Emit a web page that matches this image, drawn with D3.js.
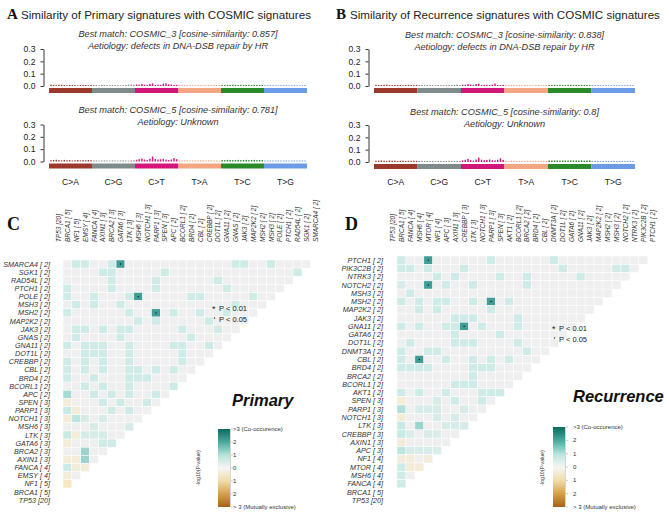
<!DOCTYPE html>
<html>
<head>
<meta charset="utf-8">
<script src="https://cdn.jsdelivr.net/npm/d3@7"></script>
<style>
body { margin: 0; background: #fff; }
text { font-family: "Liberation Sans", Arial, sans-serif; }
</style>
</head>
<body>
<div id="chart"></div>
<script>
// ---------- data ----------
const mutTypes = ["C>A", "C>G", "C>T", "T>A", "T>C", "T>G"];
const mutColors = ["#9b3a2c", "#7f8b8b", "#d1167c", "#f4a582", "#2a8a2a", "#6b9be6"];
const yTicks = [0, 0.1, 0.2, 0.3];

// 96 trinucleotide channels, 16 per substitution type
const primaryTop = [
  .011,.009,.007,.010,.010,.008,.006,.009,.008,.007,.005,.008,.010,.008,.006,.009,
  .009,.008,.006,.009,.008,.007,.005,.008,.007,.006,.005,.007,.008,.010,.012,.009,
  .012,.010,.016,.011,.009,.017,.021,.008,.011,.010,.019,.022,.014,.012,.008,.010,
  .008,.007,.007,.008,.007,.006,.007,.008,.007,.006,.006,.007,.008,.007,.006,.008,
  .009,.008,.010,.009,.011,.009,.008,.010,.009,.008,.009,.008,.010,.009,.008,.009,
  .007,.006,.007,.007,.006,.006,.007,.006,.007,.006,.006,.007,.006,.007,.006,.007];
const primaryBottom = [
  .010,.012,.014,.011,.009,.013,.010,.011,.008,.010,.012,.009,.011,.010,.012,.010,
  .008,.009,.007,.008,.009,.008,.007,.009,.008,.007,.008,.009,.008,.007,.009,.010,
  .014,.019,.024,.016,.012,.022,.040,.020,.016,.018,.021,.015,.012,.016,.028,.019,
  .009,.008,.009,.010,.008,.009,.008,.009,.010,.009,.008,.009,.009,.008,.009,.008,
  .012,.011,.013,.012,.011,.012,.013,.011,.012,.013,.011,.012,.013,.011,.012,.011,
  .008,.008,.009,.008,.008,.009,.008,.008,.009,.008,.008,.009,.008,.008,.009,.008];
const recurrenceTop = [
  .010,.009,.008,.010,.011,.008,.007,.009,.009,.008,.006,.008,.010,.009,.007,.009,
  .009,.008,.007,.008,.008,.007,.006,.008,.007,.006,.006,.007,.008,.009,.011,.008,
  .011,.010,.015,.012,.009,.016,.019,.009,.010,.010,.008,.012,.020,.009,.008,.010,
  .008,.008,.007,.008,.007,.007,.007,.008,.007,.007,.006,.007,.008,.007,.007,.008,
  .009,.009,.010,.009,.010,.009,.008,.010,.010,.009,.009,.008,.010,.009,.008,.009,
  .007,.007,.007,.007,.006,.007,.007,.006,.007,.007,.006,.007,.007,.007,.006,.007];
const recurrenceBottom = [
  .010,.011,.013,.010,.009,.012,.010,.011,.009,.010,.011,.009,.010,.010,.011,.010,
  .008,.009,.008,.008,.009,.008,.007,.009,.008,.008,.008,.009,.008,.008,.009,.009,
  .013,.018,.025,.015,.012,.020,.036,.019,.015,.017,.020,.014,.013,.018,.030,.017,
  .009,.009,.009,.010,.008,.009,.009,.009,.010,.009,.008,.009,.009,.009,.009,.008,
  .012,.012,.013,.012,.011,.012,.012,.011,.012,.013,.012,.012,.013,.011,.012,.012,
  .008,.009,.009,.008,.008,.009,.008,.009,.009,.008,.008,.009,.008,.009,.009,.008];

// genes (column order) with mutation counts
const primaryGenes = ["TP53","BRCA1","NF1","EMSY","FANCA","AXIN1","BRCA2","GATA6","LTK","MSH6",
  "NOTCH1","PARP1","SPEN","APC","BCORL1","BRD4","CBL","CREBBP","DOT1L","GNA11","GNAS","JAK3",
  "MAP2K2","MSH2","MSH3","POLE","PTCH1","RAD54L","SGK1","SMARCA4"];
const primaryCounts = [20,5,5,4,4,3,3,3,3,3,3,3,3,2,2,2,2,2,2,2,2,2,2,2,2,2,2,2,2,2];
const recurrenceGenes = ["TP53","BRCA1","FANCA","MSH6","MTOR","NF1","APC","AXIN1","CREBBP","LTK",
  "NOTCH1","PARP1","SPEN","AKT1","BCORL1","BRCA2","BRD4","CBL","DNMT3A","DOT1L","GATA6","GNA11",
  "JAK3","MAP2K2","MSH2","MSH3","NOTCH2","NTRK3","PIK3C2B","PTCH1"];
const recurrenceCounts = [20,5,4,4,4,4,3,3,3,3,3,3,3,2,2,2,2,2,2,2,2,2,2,2,2,2,2,2,2,2];

// signed -log10(P): + co-occurrence, - mutual exclusivity; rows from top
const primaryRows = [
  [0,.8,.8,0,0,.8,2.3,0,0,0,0,0,0,0,0,0,0,0,0,.8,.8,0,0,.8,0,0,0,0],
  [0,0,0,0,.8,.8,0,0,0,0,0,.8,0,0,0,0,0,0,0,0,0,0,0,0,0,0,.8],
  [0,0,0,0,0,.8,0,0,0,0,.8,0,0,0,0,0,0,.8,0,0,0,0,0,0,0,0],
  [.8,0,0,0,0,.8,0,0,0,0,.8,0,0,0,0,0,0,0,.8,0,0,0,0,0,0],
  [.8,0,0,.8,0,0,0,.8,2.3,0,0,0,0,0,.8,.8,0,0,0,0,0,.8,0,0],
  [0,.8,0,.8,0,0,.8,0,0,0,0,0,0,0,0,0,0,0,0,.8,0,0,0],
  [.8,0,0,0,0,0,0,.8,0,0,2.3,0,.8,0,0,.8,0,0,.8,0,0,0],
  [0,0,0,0,0,0,0,0,.8,0,.8,0,0,0,0,0,.8,0,0,0,0],
  [0,.8,.8,0,.8,0,.8,.8,0,0,0,0,0,.8,0,0,0,.8,0,0],
  [0,.8,0,0,0,0,.8,0,0,0,0,0,0,0,.8,0,0,0,0],
  [.8,0,.8,.8,.8,0,0,.8,0,0,0,0,.8,.8,0,0,.8,0],
  [0,0,.8,.8,.8,0,0,.8,0,0,0,0,0,.8,0,0,0],
  [.8,0,.8,0,.8,0,0,.8,0,0,0,0,0,.8,0,0],
  [.8,0,.8,0,.8,0,0,.8,.8,0,.8,0,.8,0,0],
  [.8,0,0,.8,0,0,0,.8,.8,.8,0,0,0,0],
  [0,0,.8,0,.8,0,0,.8,0,0,0,0,.8],
  [1.3,0,0,.8,0,.8,0,.8,0,0,.8,0],
  [-.5,0,0,0,.8,0,.8,0,0,.8,0],
  [1.0,-.5,0,0,0,.8,0,.8,0,0],
  [-.5,1.1,.6,0,.6,0,0,0,0],
  [0,0,0,.6,0,0,0,.6],
  [1.0,-.5,.6,.6,.6,0,0],
  [-.5,0,0,0,.8,.8],
  [0,0,1.4,0,0],
  [-.5,-.5,1.4,0],
  [.9,-.5,-.5],
  [-.5,0],
  [-1],
  [],
  []];
const recurrenceRows = [
  [.8,0,0,2.3,0,0,0,0,0,0,.8,0,0,0,0,0,0,.8,0,0,0,0,0,0,0,0,0,0],
  [.8,.8,0,.8,0,0,0,.8,0,0,0,0,0,0,0,0,0,0,.8,0,0,0,0,0,.8,.8,0],
  [0,0,0,0,.8,0,.8,0,0,0,0,.8,0,0,.8,0,0,0,0,0,.8,0,0,0,0,0],
  [.6,0,0,2.3,0,.8,0,0,.8,0,0,0,0,0,.8,0,0,0,0,0,0,0,0,0,0],
  [0,.8,0,0,0,0,0,0,0,0,0,0,0,0,0,0,0,0,0,0,0,0,0,0],
  [.8,0,.8,0,.8,.8,0,0,.8,0,2.3,0,.8,0,0,0,0,0,0,0,0,0,0],
  [0,0,.8,0,.8,0,0,0,0,0,.8,0,0,0,0,0,0,0,0,0,0,0],
  [0,0,0,0,0,0,.8,.8,.8,0,0,0,0,.8,0,0,0,0,0,0,0],
  [.8,0,.8,0,0,.8,.8,2.3,0,.8,0,0,0,.8,0,0,0,0,0,0],
  [0,0,0,0,0,0,.8,0,0,0,0,.8,0,0,0,0,0,0,0],
  [0,.8,0,0,0,0,.8,.8,.8,0,0,0,0,.8,0,0,0,0],
  [.8,0,0,.8,.8,0,0,0,0,0,0,0,0,0,.8,0,0],
  [.8,0,2.3,0,0,.8,0,0,.8,0,.8,0,.8,0,0,0],
  [.8,.8,.8,.8,0,0,0,0,.8,.8,.8,0,0,0,0],
  [0,0,0,0,0,0,0,0,.8,0,0,0,0,0],
  [0,0,0,0,0,0,.8,.8,.8,0,0,0,0],
  [.8,0,.8,0,0,.8,0,0,0,.8,.8,.8],
  [-.5,0,0,0,.6,0,.8,0,0,.8,0],
  [1.2,0,.6,.6,.6,0,0,.6,0,0],
  [-.5,0,0,0,.6,0,.6,0,0],
  [1.0,0,1.4,0,0,.6,.6,.6],
  [1.0,.5,0,.6,.5,0,0],
  [-.5,0,0,0,0,0],
  [1.1,.6,.6,.6,.5],
  [-.5,-.5,0,-.5],
  [.8,-.5,-.5],
  [.8,0],
  [.8],
  [],
  []];

const legendTicks = [3, 2, 1, 0, -1, -2, -3];
const legendLabels = [">3 (Co-occurence)", "2", "1", "0", "1", "2", "> 3 (Mutually exclusive)"];

// ---------- drawing ----------
const svg = d3.select("#chart")
  .append("svg")
  .attr("width", 669)
  .attr("height", 516);

const serif = "'Liberation Serif', 'Times New Roman', serif";

// panel letters and titles
[["A", 7, 19], ["B", 336, 19], ["C", 7, 230], ["D", 345, 230]].forEach(([t, x, y]) => {
  svg.append("text").attr("x", x).attr("y", y).text(t)
    .style("font-family", serif).style("font-weight", "bold")
    .style("font-size", t === "A" || t === "B" ? "15px" : "18px").attr("fill", "#111");
});
svg.append("text").attr("x", 21).attr("y", 19).text("Similarity of Primary signatures with COSMIC signatures")
  .style("font-size", "11.6px").attr("fill", "#222");
svg.append("text").attr("x", 350).attr("y", 19).text("Similarity of Recurrence signatures with COSMIC signatures")
  .style("font-size", "11.6px").attr("fill", "#222");

const drawSignature = (p) => {
  const g = svg.append("g");
  const y = d3.scaleLinear().domain([0, 0.3]).range([p.zero, p.top]);
  const x = d3.scaleBand().domain(d3.range(96)).range([p.left, p.right]).padding(0.45);
  const xt = d3.scaleBand().domain(mutTypes).range([p.left, p.right]);
  const cx = (p.left + p.right) / 2;

  p.lines.forEach((l, i) => {
    g.append("text").attr("x", cx).attr("y", p.textY + i * 12).attr("text-anchor", "middle")
      .style("font-size", "9.2px").style("font-style", "italic").attr("fill", "#333").text(l);
  });

  g.append("g")
    .attr("transform", `translate(${p.axisX},0)`)
    .call(d3.axisLeft(y).tickValues(yTicks).tickSize(3).tickSizeOuter(0).tickPadding(5).tickFormat(d3.format(".1f")))
    .call(a => a.selectAll("text").style("font-size", "8.6px").attr("fill", "#222"))
    .call(a => a.selectAll("path,line").attr("stroke", "#333"));

  g.selectAll("rect.bar")
    .data(p.vals)
    .join("rect")
    .attr("class", "bar")
    .attr("x", (d, i) => x(i))
    .attr("y", d => y(d))
    .attr("width", x.bandwidth())
    .attr("height", d => y(0) - y(d))
    .attr("fill", (d, i) => mutColors[Math.floor(i / 16)]);

  g.selectAll("rect.strip")
    .data(mutTypes)
    .join("rect")
    .attr("class", "strip")
    .attr("x", d => xt(d))
    .attr("y", p.zero + 2)
    .attr("width", xt.bandwidth())
    .attr("height", 5)
    .attr("fill", (d, i) => mutColors[i]);

  if (p.labels) {
    g.selectAll("text.mt")
      .data(mutTypes)
      .join("text")
      .attr("class", "mt")
      .attr("x", d => xt(d) + xt.bandwidth() / 2)
      .attr("y", 185)
      .attr("text-anchor", "middle")
      .style("font-size", "8.6px")
      .attr("fill", "#222")
      .text(d => d);
  }
};

drawSignature({vals: primaryTop, left: 49, right: 307, axisX: 43.5, zero: 86, top: 49, textY: 37,
  lines: ["Best match: COSMIC_3 [cosine-similarity: 0.857]", "Aetiology: defects in DNA-DSB repair by HR"]});
drawSignature({vals: primaryBottom, left: 49, right: 307, axisX: 43.5, zero: 161.5, top: 124.5, textY: 113, labels: true,
  lines: ["Best match: COSMIC_5 [cosine-similarity: 0.781]", "Aetiology: Unknown"]});
drawSignature({vals: recurrenceTop, left: 374, right: 635, axisX: 368.5, zero: 86, top: 49, textY: 38,
  lines: ["Best match: COSMIC_3 [cosine-similarity: 0.838]", "Aetiology: defects in DNA-DSB repair by HR"]});
drawSignature({vals: recurrenceBottom, left: 374, right: 635, axisX: 368.5, zero: 162, top: 125, textY: 115, labels: true,
  lines: ["Best match: COSMIC_5 [cosine-similarity: 0.8]", "Aetiology: Unknown"]});

// heatmap colours
const cellColor = d3.scaleLinear()
  .domain([-3, -2, -1, 0, 1, 2, 3])
  .range(["#a6611a", "#dfc27d", "#f6e8c3", "#efefef", "#c7eae5", "#5ab4ac", "#01665e"]);

const geneLabel = (g, n) => `${g} [${n < 10 ? " " + n : n}]`;

const drawHeatmap = (p) => {
  const g = svg.append("g");
  const rowGenes = p.genes.slice().reverse();
  const x = d3.scaleBand().domain(p.genes).range([p.x0, p.x0 + 30 * p.w]);
  const y = d3.scaleBand().domain(rowGenes).range([p.y0, p.y0 + 30 * p.h]);
  const cnt = new Map(d3.zip(p.genes, p.counts));

  const cells = [];
  p.rows.forEach((row, r) => {
    row.forEach((v, c) => cells.push({row: rowGenes[r], col: p.genes[c + 1], v: v}));
  });

  g.selectAll("rect")
    .data(cells)
    .join("rect")
    .attr("x", d => x(d.col))
    .attr("y", d => y(d.row))
    .attr("width", x.bandwidth())
    .attr("height", y.bandwidth())
    .attr("fill", d => cellColor(d.v))
    .attr("stroke", "#fff")
    .attr("stroke-width", 0.5);

  g.selectAll("circle")
    .data(cells.filter(d => d.v >= 2))
    .join("circle")
    .attr("cx", d => x(d.col) + x.bandwidth() / 2)
    .attr("cy", d => y(d.row) + y.bandwidth() / 2)
    .attr("r", 0.7)
    .attr("fill", "#111");

  g.selectAll("text.rl")
    .data(rowGenes)
    .join("text")
    .attr("class", "rl")
    .attr("x", p.labelX)
    .attr("y", d => y(d) + y.bandwidth() / 2)
    .attr("dy", "0.35em")
    .attr("text-anchor", "end")
    .style("font-size", "7.2px")
    .style("font-style", "italic")
    .attr("fill", "#333")
    .text(d => geneLabel(d, cnt.get(d)));

  g.selectAll("text.cl")
    .data(p.genes)
    .join("text")
    .attr("class", "cl")
    .attr("transform", d => `translate(${x(d) + x.bandwidth() / 2 + 2.6},242) rotate(-90) scale(0.85,1)`)
    .style("font-size", "7.6px")
    .style("font-style", "italic")
    .attr("fill", "#333")
    .text(d => geneLabel(d, cnt.get(d)));

  // significance legend
  g.append("text").attr("x", p.legX).attr("y", p.legY + 4).text("*").style("font-size", "9px").attr("fill", "#222");
  g.append("text").attr("x", p.legX + 7).attr("y", p.legY + 2.5).text("P < 0.01").style("font-size", "7.5px").attr("fill", "#222");
  g.append("circle").attr("cx", p.legX + 2.5).attr("cy", p.legY + 10).attr("r", 0.7).attr("fill", "#222");
  g.append("text").attr("x", p.legX + 7).attr("y", p.legY + 13.5).text("P < 0.05").style("font-size", "7.5px").attr("fill", "#222");

  g.append("text").attr("x", p.nameX).attr("y", p.nameY).text(p.name)
    .style("font-size", "16.5px").style("font-weight", "bold").style("font-style", "italic").attr("fill", "#111");

  // colour bar
  const gid = "grad" + p.name;
  const barColor = d3.scaleLinear().domain([-3, -2, -1, 0, 1, 2, 3])
    .range(["#a6611a", "#d4a14a", "#f0dcaa", "#f5f5f5", "#b5e3da", "#4aa89d", "#0a6a5e"]);
  const grad = svg.append("defs").append("linearGradient").attr("id", gid)
    .attr("x1", 0).attr("x2", 0).attr("y1", 0).attr("y2", 1);
  grad.selectAll("stop")
    .data(d3.range(3, -3.01, -0.25))
    .join("stop")
    .attr("offset", d => (3 - d) / 6)
    .attr("stop-color", d => barColor(d));
  const cy = d3.scaleLinear().domain([3, -3]).range([p.barTop, 507]);
  g.append("rect").attr("x", p.barX).attr("y", p.barTop).attr("width", 12).attr("height", 507 - p.barTop)
    .attr("fill", `url(#${gid})`);
  g.append("line").attr("x1", p.barX + 12.5).attr("x2", p.barX + 12.5).attr("y1", p.barTop).attr("y2", 507)
    .attr("stroke", "#ccc").attr("stroke-width", 0.8);
  g.selectAll("line.tk")
    .data(legendTicks)
    .join("line")
    .attr("class", "tk")
    .attr("x1", p.barX + 13).attr("x2", p.barX + 15)
    .attr("y1", d => cy(d)).attr("y2", d => cy(d))
    .attr("stroke", "#999").attr("stroke-width", 0.5);
  g.selectAll("text.tl")
    .data(legendTicks)
    .join("text")
    .attr("class", "tl")
    .attr("x", p.barLabX)
    .attr("y", d => cy(d))
    .attr("dy", "0.35em")
    .style("font-size", "6px")
    .attr("fill", "#333")
    .text((d, i) => legendLabels[i]);
  g.append("text")
    .attr("transform", `translate(${p.axTitleX},468) rotate(-90)`)
    .attr("text-anchor", "middle")
    .style("font-size", "5.2px")
    .attr("fill", "#333")
    .text("-log10(P-value)");
};

drawHeatmap({genes: primaryGenes, counts: primaryCounts, rows: primaryRows,
  x0: 54.15, w: 8.85, y0: 260, h: 8.14, labelX: 50,
  legX: 212, legY: 308, name: "Primary", nameX: 232, nameY: 406,
  barX: 218, barTop: 429, barLabX: 233, axTitleX: 200});
drawHeatmap({genes: recurrenceGenes, counts: recurrenceCounts, rows: recurrenceRows,
  x0: 388, w: 8.96, y0: 256, h: 8.28, labelX: 383,
  legX: 552, legY: 328, name: "Recurrence", nameX: 573, nameY: 402,
  barX: 553, barTop: 427, barLabX: 573, axTitleX: 544});
</script>
</body>
</html>
